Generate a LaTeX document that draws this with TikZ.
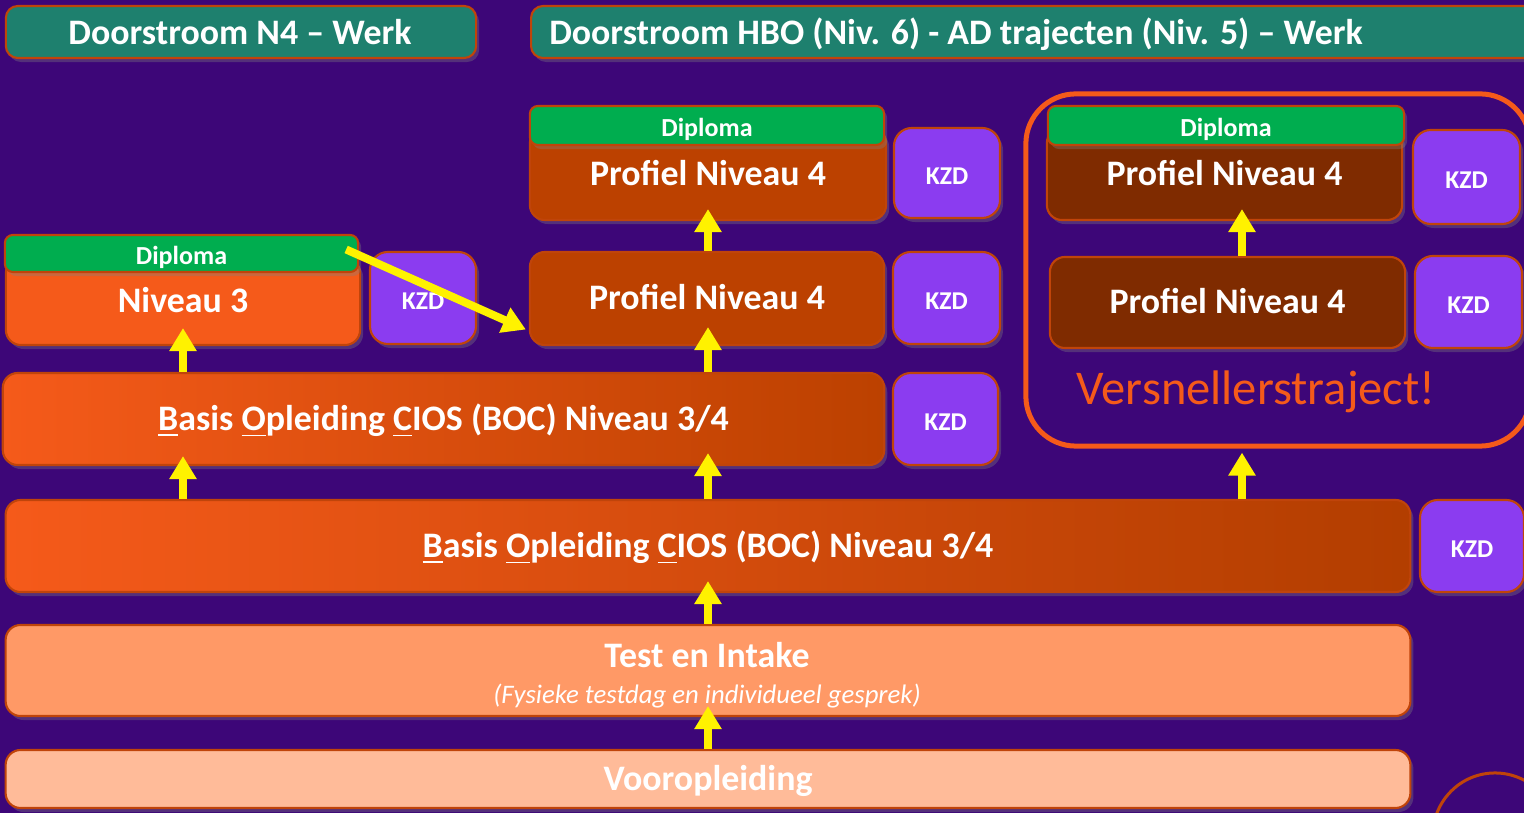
\documentclass[tikz,border=0pt]{standalone}
\usepackage{fontspec}
\setmainfont{Carlito}
\usetikzlibrary{arrows.meta,shadows}

\definecolor{bgpurple}{RGB}{61,6,120}
\definecolor{titleteal}{RGB}{30,128,110}
\definecolor{edgeorange}{RGB}{192,68,10}
\definecolor{dipgreen}{RGB}{0,173,79}
\definecolor{niv3orange}{RGB}{245,90,26}
\definecolor{profrust}{RGB}{188,65,0}
\definecolor{profbrown}{RGB}{127,43,0}
\definecolor{kzdpurple}{RGB}{139,60,240}
\definecolor{testsalmon}{RGB}{255,153,102}
\definecolor{voorpeach}{RGB}{255,187,153}

\begin{document}
\begin{tikzpicture}[x=0.01cm,y=-0.01cm]
\tikzstyle{boxshadow} = [drop shadow={shadow xshift=0.03cm, shadow yshift=-0.04cm, opacity=0.35}]
\tikzstyle{capcenter} = [text height=0.64em, text depth=0pt]
\tikzstyle{titlebox} = [draw=edgeorange, line width=0.6pt, fill=titleteal, rounded corners=0.12cm,
    minimum height=0.52cm, inner sep=0pt, boxshadow]
\tikzstyle{stage} = [draw=edgeorange, line width=0.6pt, rounded corners=0.15cm, inner sep=0pt,
    text=white, font=\fontsize{10.2}{12}\selectfont\bfseries, capcenter, boxshadow]
\tikzstyle{diploma} = [draw=edgeorange, line width=0.6pt, fill=dipgreen, rounded corners=0.08cm,
    inner sep=0pt, text=white, font=\fontsize{7.4}{9}\selectfont\bfseries, capcenter, boxshadow]
\tikzstyle{kzdbox} = [draw=edgeorange, line width=0.6pt, fill=kzdpurple, rounded corners=0.18cm,
    inner sep=0pt, text=white, font=\fontsize{7.3}{8}\selectfont\bfseries, capcenter, boxshadow]
\tikzstyle{bigtext} = [text=white, font=\fontsize{10.2}{12}\selectfont\bfseries, capcenter]
\tikzstyle{uparrow} = [draw=yellow, line width=0.08cm, -{Triangle[width=0.26cm,length=0.23cm]}, fill=yellow]

% background
\useasboundingbox (0,0) rectangle (1524,813);
\clip (0,0) rectangle (1524,813);
\fill[bgpurple] (0,0) rectangle (1524,813);
\draw[edgeorange, line width=0.03cm] (1495,835) circle [radius=0.62cm];

% titles
\node[titlebox, minimum width=4.70cm] (n4title) at (241,32) {};
\node[bigtext] (n4text) at (240,33) {Doorstroom N4 -- Werk};
\node[titlebox, minimum width=10.1cm, anchor=west] (hbotitle) at (530,32) {};
\node[bigtext] (hbotext) at (956,33) {Doorstroom HBO (Niv. 6) - AD trajecten (Niv. 5) -- Werk};

% accelerated route frame
\node[draw=niv3orange, line width=0.05cm, rounded corners=0.5cm, minimum width=5.04cm,
    minimum height=3.52cm, inner sep=0pt] (vframe) at (1278,270) {};
\node[text=niv3orange, font=\fontsize{13.8}{15}\selectfont, capcenter] (verstext) at (1256,393) {Versnellerstraject!};
\coordinate (vtrack) at (1242,0);

% bottom stages
\node[stage, fill=voorpeach, minimum width=14.04cm, minimum height=0.58cm] (voor) at (708,779) {Vooropleiding};
\node[stage, fill=testsalmon, minimum width=14.04cm, minimum height=0.91cm] (test) at (708,670.5) {};
\node[bigtext] (testtitle) at (707,656) {Test en Intake};
\node[text=white, font=\fontsize{7.6}{9}\selectfont\itshape, capcenter] (testsub) at (707,692) {(Fysieke testdag en individueel gesprek)};
\node[stage, left color=niv3orange, right color=profrust!95!black, minimum width=14.04cm, minimum height=0.92cm] (boc2) at (708,546)
    {\underline{B}asis \underline{O}pleiding \underline{C}IOS (BOC) Niveau 3/4};
\node[kzdbox, minimum width=1.04cm, minimum height=0.92cm] (kzd5) at (1472,546) {KZD};
\node[stage, left color=niv3orange, right color=profrust, minimum width=8.81cm, minimum height=0.92cm] (boc1) at (443.5,419)
    {\underline{B}asis \underline{O}pleiding \underline{C}IOS (BOC) Niveau 3/4};
\node[kzdbox, minimum width=1.05cm, minimum height=0.92cm] (kzd4) at (945.5,419) {KZD};

% N4 column
\node[stage, fill=niv3orange, minimum width=3.54cm, minimum height=0.87cm] (niv3) at (183,301.5) {Niveau 3};
\node[diploma, minimum width=3.53cm, minimum height=0.37cm] (dip3) at (181.5,253.5) {Diploma};
\node[kzdbox, minimum width=1.06cm, minimum height=0.92cm] (kzd1) at (423,298) {KZD};

% HBO column
\node[stage, fill=profrust, minimum width=3.54cm, minimum height=0.93cm] (profmid) at (707,298.5) {Profiel Niveau 4};
\node[kzdbox, minimum width=1.07cm, minimum height=0.92cm] (kzd3) at (946.5,298) {KZD};
\node[stage, fill=profrust, minimum width=3.56cm, minimum height=0.92cm] (proftop) at (708,174) {Profiel Niveau 4};
\node[diploma, minimum width=3.54cm, minimum height=0.39cm] (dipmid) at (707,125.5) {Diploma};
\node[kzdbox, minimum width=1.06cm, minimum height=0.90cm] (kzd2) at (947,173) {KZD};

% accelerated column
\node[stage, fill=profbrown, minimum width=3.55cm, minimum height=0.91cm] (profR2) at (1227.5,302.5) {Profiel Niveau 4};
\node[kzdbox, minimum width=1.07cm, minimum height=0.92cm] (kzdR2) at (1468.5,302) {KZD};
\node[stage, fill=profbrown, minimum width=3.55cm, minimum height=0.92cm] (profR1) at (1224.5,174) {Profiel Niveau 4};
\node[diploma, minimum width=3.56cm, minimum height=0.39cm] (dipR) at (1226,125.5) {Diploma};
\node[kzdbox, minimum width=1.07cm, minimum height=0.94cm] (kzdR1) at (1466.5,177) {KZD};

% arrows
\draw[uparrow] (voor.north) -- ([yshift=0.11cm]test.south);
\draw[uparrow] (test.north) -- ([yshift=0.12cm]boc2.south);
\draw[uparrow] (boc2.north -| niv3) -- ([yshift=0.10cm]boc1.south -| niv3);
\draw[uparrow] (boc2.north) -- ([yshift=0.13cm]boc1.south -| boc2);
\draw[uparrow] (boc1.north -| niv3) -- ([yshift=0.18cm]niv3.south);
\draw[uparrow] (boc1.north -| proftop) -- ([yshift=0.19cm]profmid.south -| proftop);
\draw[uparrow] (profmid.north -| proftop) -- ([yshift=0.12cm]proftop.south);
\draw[uparrow] (boc2.north -| vtrack) -- ([yshift=-0.04cm]vframe.south -| vtrack);
\draw[uparrow] (profR2.north -| vtrack) -- ([yshift=0.12cm]profR1.south -| vtrack);
\draw[uparrow] ([xshift=-0.13cm,yshift=0.04cm]dip3.east) -- ([xshift=-0.03cm,yshift=-0.31cm]profmid.west);
\end{tikzpicture}
\end{document}
